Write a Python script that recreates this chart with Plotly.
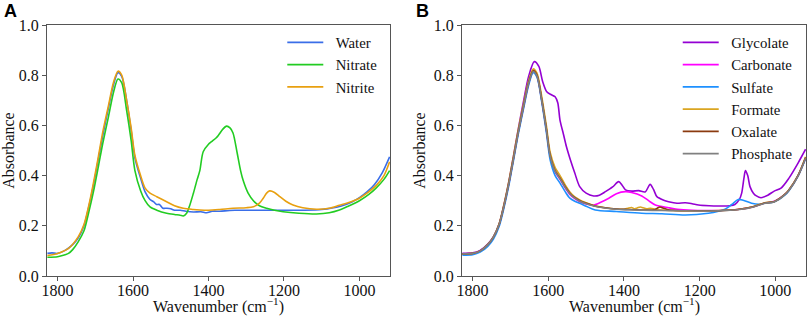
import plotly.graph_objects as go

# ---------------- Panel A data ----------------
wn_water = [1827, 1815, 1800, 1780, 1760, 1745, 1730, 1718, 1705, 1692, 1680, 1665, 1652, 1640, 1630,
            1617, 1605, 1595, 1580, 1568, 1555, 1545, 1538, 1530, 1521, 1510, 1500, 1490, 1475, 1460,
            1440, 1420, 1405, 1390, 1370, 1350, 1330, 1300, 1250, 1200, 1150, 1100, 1050, 1020, 1000,
            980, 960, 940, 920]
abs_water = [0.090, 0.092, 0.090, 0.102, 0.125, 0.152, 0.200, 0.270, 0.360, 0.465, 0.560, 0.670, 0.760, 0.810, 0.795,
             0.700, 0.580, 0.470, 0.390, 0.335, 0.305, 0.295, 0.285, 0.285, 0.270, 0.270, 0.268, 0.262, 0.262, 0.258,
             0.255, 0.256, 0.252, 0.258, 0.258, 0.260, 0.262, 0.262, 0.262, 0.262, 0.262, 0.265, 0.278, 0.295, 0.312,
             0.335, 0.365, 0.410, 0.475]

wn_nitrate = [1827, 1800, 1780, 1771, 1760, 1745, 1730, 1718, 1705, 1692, 1680, 1665, 1652, 1640, 1630,
              1617, 1605, 1595, 1580, 1568, 1555, 1537, 1511, 1490, 1475, 1467, 1458, 1450, 1440, 1430,
              1423, 1414, 1400, 1392, 1380, 1374, 1362, 1352, 1343, 1335, 1324, 1315, 1308, 1295, 1281,
              1265, 1246, 1225, 1202, 1160, 1114, 1080, 1053, 1030, 1000, 975, 956, 935, 920]
abs_nitrate = [0.075, 0.077, 0.085, 0.090, 0.105, 0.137, 0.180, 0.250, 0.335, 0.435, 0.530, 0.635, 0.730, 0.785, 0.770,
               0.660, 0.540, 0.420, 0.340, 0.300, 0.275, 0.262, 0.250, 0.245, 0.242, 0.239, 0.250, 0.280, 0.330, 0.385,
               0.420, 0.495, 0.525, 0.535, 0.550, 0.560, 0.585, 0.597, 0.590, 0.570, 0.490, 0.420, 0.380, 0.330, 0.300,
               0.280, 0.270, 0.262, 0.256, 0.250, 0.247, 0.252, 0.263, 0.278, 0.300, 0.325, 0.350, 0.385, 0.420]

wn_nitrite = [1827, 1800, 1771, 1745, 1730, 1718, 1705, 1692, 1680, 1665, 1652, 1640, 1630, 1617, 1605,
              1595, 1580, 1568, 1555, 1537, 1511, 1490, 1467, 1440, 1423, 1400, 1370, 1335, 1300, 1281,
              1265, 1255, 1246, 1238, 1225, 1211, 1195, 1176, 1150, 1114, 1080, 1053, 1030, 1000, 980,
              956, 935, 920]
abs_nitrite = [0.082, 0.090, 0.110, 0.157, 0.205, 0.276, 0.370, 0.475, 0.575, 0.680, 0.770, 0.816, 0.800, 0.700, 0.590,
               0.480, 0.400, 0.350, 0.330, 0.316, 0.296, 0.280, 0.270, 0.265, 0.263, 0.262, 0.265, 0.270, 0.272, 0.276,
               0.290, 0.310, 0.330, 0.339, 0.333, 0.316, 0.298, 0.283, 0.272, 0.266, 0.270, 0.282, 0.292, 0.310, 0.330,
               0.360, 0.400, 0.455]

# ---------------- Panel B data ----------------
wn_glycolate = [1827, 1800, 1780, 1760, 1745, 1730, 1718, 1705, 1692, 1680, 1665, 1652, 1637, 1625, 1615,
                1604, 1592, 1582, 1575, 1569, 1560, 1552, 1540, 1530, 1517, 1500, 1480, 1465, 1449, 1430,
                1414, 1405, 1396, 1380, 1361, 1344, 1331, 1322, 1313, 1295, 1282, 1260, 1238, 1220, 1203,
                1175, 1151, 1120, 1107, 1095, 1089, 1083, 1079, 1073, 1067, 1058, 1050, 1038, 1020, 1003,
                985, 964, 940, 920]
abs_glycolate = [0.090, 0.092, 0.102, 0.127, 0.157, 0.207, 0.278, 0.370, 0.478, 0.580, 0.700, 0.795, 0.854, 0.835, 0.775,
                 0.734, 0.722, 0.714, 0.690, 0.620, 0.565, 0.515, 0.455, 0.410, 0.356, 0.330, 0.319, 0.322, 0.336, 0.355,
                 0.376, 0.362, 0.343, 0.338, 0.340, 0.335, 0.365, 0.345, 0.316, 0.302, 0.296, 0.290, 0.292, 0.288, 0.283,
                 0.280, 0.279, 0.280, 0.285, 0.305, 0.330, 0.390, 0.420, 0.400, 0.356, 0.330, 0.319, 0.312, 0.322, 0.338,
                 0.350, 0.390, 0.450, 0.505]

wn_carbonate = [1827, 1800, 1780, 1760, 1745, 1730, 1718, 1705, 1692, 1680, 1665, 1652, 1640, 1630, 1617,
                1605, 1595, 1582, 1569, 1555, 1543, 1530, 1517, 1500, 1480, 1460, 1440, 1420, 1396, 1380,
                1353, 1335, 1317, 1282, 1259, 1220, 1180, 1150, 1100, 1060, 1030, 1002, 975, 964, 940, 920]
abs_carbonate = [0.088, 0.090, 0.100, 0.124, 0.153, 0.203, 0.273, 0.362, 0.467, 0.567, 0.676, 0.766, 0.815, 0.797, 0.697,
                 0.580, 0.475, 0.415, 0.385, 0.350, 0.325, 0.308, 0.296, 0.287, 0.283, 0.295, 0.310, 0.328, 0.336, 0.333,
                 0.319, 0.300, 0.283, 0.272, 0.266, 0.262, 0.261, 0.261, 0.265, 0.275, 0.290, 0.298, 0.325, 0.343, 0.400, 0.470]

wn_sulfate = [1827, 1800, 1780, 1760, 1745, 1730, 1718, 1705, 1692, 1680, 1665, 1652, 1640, 1630, 1617,
              1605, 1595, 1582, 1569, 1555, 1543, 1530, 1517, 1500, 1476, 1420, 1353, 1300, 1238, 1177,
              1150, 1133, 1115, 1098, 1085, 1063, 1040, 1030, 1002, 975, 964, 940, 920]
abs_sulfate = [0.083, 0.085, 0.095, 0.118, 0.147, 0.197, 0.266, 0.355, 0.460, 0.560, 0.670, 0.760, 0.810, 0.792, 0.690,
               0.570, 0.462, 0.400, 0.370, 0.335, 0.310, 0.298, 0.290, 0.278, 0.263, 0.257, 0.250, 0.248, 0.243, 0.250,
               0.258, 0.266, 0.285, 0.305, 0.302, 0.290, 0.286, 0.290, 0.296, 0.322, 0.340, 0.398, 0.468]

wn_formate = [1827, 1800, 1780, 1760, 1745, 1730, 1718, 1705, 1692, 1680, 1665, 1652, 1640, 1630, 1617,
              1605, 1595, 1582, 1569, 1555, 1543, 1530, 1517, 1500, 1480, 1450, 1420, 1400, 1390, 1380,
              1372, 1365, 1357, 1350, 1340, 1330, 1315, 1290, 1240, 1200, 1150, 1100, 1060, 1030, 1002,
              975, 964, 940, 920]
abs_formate = [0.088, 0.090, 0.100, 0.125, 0.156, 0.208, 0.280, 0.372, 0.478, 0.578, 0.688, 0.778, 0.825, 0.808, 0.712,
               0.598, 0.492, 0.432, 0.400, 0.362, 0.335, 0.315, 0.303, 0.292, 0.281, 0.272, 0.267, 0.266, 0.270, 0.273,
               0.268, 0.271, 0.275, 0.272, 0.268, 0.270, 0.265, 0.262, 0.260, 0.260, 0.261, 0.265, 0.276, 0.291, 0.297,
               0.325, 0.344, 0.401, 0.475]

wn_oxalate = [1827, 1800, 1780, 1760, 1745, 1730, 1718, 1705, 1692, 1680, 1665, 1652, 1640, 1630, 1617,
              1605, 1595, 1582, 1569, 1555, 1543, 1530, 1517, 1500, 1480, 1450, 1420, 1390, 1350, 1320,
              1312, 1305, 1296, 1285, 1270, 1240, 1200, 1150, 1100, 1060, 1030, 1002, 975, 964, 940, 920]
abs_oxalate = [0.088, 0.090, 0.100, 0.125, 0.155, 0.205, 0.275, 0.365, 0.470, 0.570, 0.680, 0.770, 0.818, 0.800, 0.700,
               0.585, 0.480, 0.420, 0.390, 0.355, 0.330, 0.312, 0.300, 0.290, 0.280, 0.272, 0.267, 0.265, 0.263, 0.264,
               0.270, 0.275, 0.270, 0.265, 0.262, 0.260, 0.260, 0.260, 0.265, 0.275, 0.290, 0.297, 0.325, 0.343, 0.400, 0.472]

wn_phosphate = [1827, 1800, 1780, 1760, 1745, 1730, 1718, 1705, 1692, 1680, 1665, 1652, 1640, 1630, 1617,
                1605, 1595, 1582, 1569, 1555, 1543, 1530, 1517, 1500, 1480, 1450, 1420, 1390, 1350, 1300,
                1250, 1200, 1150, 1100, 1060, 1030, 1002, 975, 964, 940, 920]
abs_phosphate = [0.088, 0.090, 0.100, 0.125, 0.155, 0.205, 0.274, 0.364, 0.468, 0.568, 0.678, 0.768, 0.815, 0.797, 0.697,
                 0.582, 0.477, 0.417, 0.387, 0.352, 0.328, 0.310, 0.298, 0.288, 0.279, 0.271, 0.266, 0.264, 0.262, 0.261,
                 0.260, 0.259, 0.260, 0.264, 0.274, 0.289, 0.296, 0.324, 0.342, 0.399, 0.470]

x_ticks = [1800, 1600, 1400, 1200, 1000]
y_ticks = [0.0, 0.2, 0.4, 0.6, 0.8, 1.0]
y_ticktext = ["0.0", "0.2", "0.4", "0.6", "0.8", "1.0"]
x_range = [1828, 919]
y_range = [0.0, 1.0]

series_a = [
    ("Water", wn_water, abs_water, "#3a6ee8"),
    ("Nitrate", wn_nitrate, abs_nitrate, "#22cc22"),
    ("Nitrite", wn_nitrite, abs_nitrite, "#e8a010"),
]
series_b = [
    ("Glycolate", wn_glycolate, abs_glycolate, "#9400d3"),
    ("Carbonate", wn_carbonate, abs_carbonate, "#ff00ff"),
    ("Sulfate", wn_sulfate, abs_sulfate, "#1e90ff"),
    ("Formate", wn_formate, abs_formate, "#daa520"),
    ("Oxalate", wn_oxalate, abs_oxalate, "#8b3a0f"),
    ("Phosphate", wn_phosphate, abs_phosphate, "#808080"),
]

SERIF = "Liberation Serif, Times New Roman, serif"
SANS = "Liberation Sans, Arial, sans-serif"
TXT = "#111111"
GAP = "\u2002"  # small lead-in so legend text sits a bit further from its line sample
fig = go.Figure()

for name, x, y, c in series_a:
    fig.add_trace(go.Scatter(x=x, y=y, name=GAP + name, mode="lines", xaxis="x", yaxis="y",
                             line=dict(color=c, width=1.6, shape="spline", smoothing=0.8),
                             legend="legend"))
for name, x, y, c in series_b:
    fig.add_trace(go.Scatter(x=x, y=y, name=GAP + name, mode="lines", xaxis="x2", yaxis="y2",
                             line=dict(color=c, width=1.6, shape="spline", smoothing=0.8),
                             legend="legend2"))

axis_common = dict(showline=True, linecolor="#555555", linewidth=1, mirror=True,
                   ticks="outside", ticklen=4, tickcolor="#555555", showgrid=False, zeroline=False,
                   tickfont=dict(family=SERIF, size=16, color=TXT))
ytitle = dict(text="Absorbance", font=dict(family=SERIF, size=16, color=TXT), standoff=4)
xtitle_text = "Wavenumber (cm<sup>−1</sup>)"

fig.update_layout(
    width=809, height=321,
    margin=dict(l=47, r=3, t=25, b=45),
    paper_bgcolor="white", plot_bgcolor="white",
    xaxis=dict(domain=[0, 0.4519], range=x_range, tickvals=x_ticks, anchor="y", ticklabelstandoff=-4,
               **axis_common),
    yaxis=dict(domain=[0, 1], range=y_range, tickvals=y_ticks, ticktext=y_ticktext, anchor="x",
               title=ytitle, **axis_common),
    xaxis2=dict(domain=[0.5468, 1], range=x_range, tickvals=x_ticks, anchor="y2", ticklabelstandoff=-4,
                **axis_common),
    yaxis2=dict(domain=[0, 1], range=y_range, tickvals=y_ticks, ticktext=y_ticktext, anchor="x2",
                title=ytitle, **axis_common),
    legend=dict(x=0.310, y=0.995, xanchor="left", yanchor="top", bgcolor="rgba(255,255,255,0)",
                font=dict(family=SERIF, size=14.8, color=TXT), borderwidth=0, itemwidth=36),
    legend2=dict(x=0.831, y=0.995, xanchor="left", yanchor="top", bgcolor="rgba(255,255,255,0)",
                 font=dict(family=SERIF, size=14.8, color=TXT), borderwidth=0, itemwidth=36),
    showlegend=True,
    annotations=[
        dict(text="<b>A</b>", x=-0.0593, y=1.0538, xref="paper", yref="paper", xanchor="left", yanchor="middle",
             showarrow=False, font=dict(family=SANS, size=18, color="#000")),
        dict(text="<b>B</b>", x=0.4835, y=1.0538, xref="paper", yref="paper", xanchor="left", yanchor="middle",
             showarrow=False, font=dict(family=SANS, size=18, color="#000")),
        dict(text=xtitle_text, x=0.4519 / 2, y=-0.116, xref="paper", yref="paper", xanchor="center",
             yanchor="middle", showarrow=False, font=dict(family=SERIF, size=16, color=TXT)),
        dict(text=xtitle_text, x=(0.5468 + 1) / 2, y=-0.116, xref="paper", yref="paper", xanchor="center",
             yanchor="middle", showarrow=False, font=dict(family=SERIF, size=16, color=TXT)),
    ],
)

# remove the browser's default 8px body margin so the figure sits at the page origin
fig.write_html("out.html", config={"displayModeBar": False},
               post_script="document.body.style.margin='0';")
